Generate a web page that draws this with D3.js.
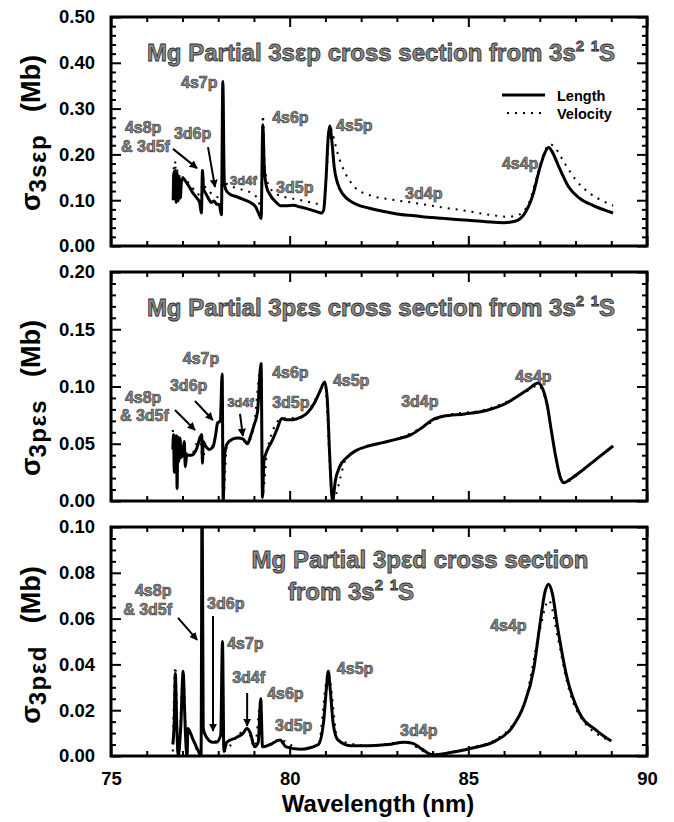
<!DOCTYPE html>
<html><head><meta charset="utf-8">
<script src="https://cdn.jsdelivr.net/npm/d3@7"></script>
<style>body{margin:0;background:#fff}text{font-family:"Liberation Sans",Arial,sans-serif;font-weight:bold}</style>
</head><body><svg id="c" width="674" height="822"></svg>
<script>
// ---------- data ----------
const xMajorTicks = [75, 80, 85, 90];
const xMinorTicks = [76, 77, 78, 79, 81, 82, 83, 84, 86, 87, 88, 89];
const sepTicks = [0, 0.1, 0.2, 0.3, 0.4, 0.5];
const pesTicks = [0, 0.05, 0.1, 0.15, 0.2];
const pedTicks = [0, 0.02, 0.04, 0.06, 0.08, 0.1];

// sigma 3s-eps-p (Mb) vs wavelength (nm)
const sepLength = [[76.74,0.100],[76.76,0.160],[76.78,0.105],[76.80,0.165],[76.82,0.095],[76.85,0.160],[76.88,0.098],[76.91,0.150],[76.94,0.105],[76.97,0.140],[77.02,0.148],[77.10,0.140],[77.20,0.128],[77.30,0.115],[77.40,0.105],[77.48,0.095],[77.53,0.072],[77.56,0.165],[77.59,0.125],[77.65,0.115],[77.72,0.105],[77.80,0.095],[77.88,0.098],[77.95,0.092],[78.03,0.090],[78.09,0.068],[78.13,0.358],[78.17,0.140],[78.22,0.122],[78.35,0.112],[78.50,0.108],[78.70,0.102],[78.90,0.095],[79.05,0.085],[79.15,0.068],[79.20,0.060],[79.25,0.265],[79.29,0.170],[79.35,0.130],[79.45,0.112],[79.60,0.097],[79.75,0.088],[79.90,0.088],[80.10,0.089],[80.30,0.085],[80.55,0.080],[80.75,0.075],[80.88,0.072],[80.95,0.078],[81.02,0.150],[81.08,0.240],[81.12,0.262],[81.18,0.230],[81.25,0.170],[81.35,0.135],[81.50,0.112],[81.70,0.098],[81.90,0.090],[82.20,0.083],[82.60,0.076],[83.00,0.070],[83.50,0.066],[84.00,0.062],[84.50,0.059],[85.00,0.056],[85.50,0.053],[86.00,0.051],[86.30,0.054],[86.55,0.068],[86.80,0.110],[87.00,0.170],[87.15,0.205],[87.25,0.215],[87.35,0.205],[87.55,0.170],[87.80,0.130],[88.10,0.105],[88.50,0.088],[89.05,0.072]];
const sepVelocity = [[76.74,0.115],[76.76,0.175],[76.78,0.120],[76.80,0.185],[76.82,0.112],[76.85,0.170],[76.88,0.115],[76.92,0.158],[76.97,0.150],[77.05,0.150],[77.15,0.140],[77.30,0.125],[77.45,0.112],[77.52,0.095],[77.56,0.172],[77.60,0.135],[77.70,0.123],[77.85,0.112],[78.00,0.105],[78.09,0.085],[78.13,0.360],[78.17,0.150],[78.25,0.135],[78.45,0.128],[78.70,0.122],[78.95,0.115],[79.12,0.100],[79.20,0.080],[79.25,0.285],[79.30,0.180],[79.40,0.135],[79.60,0.115],[79.90,0.106],[80.20,0.102],[80.50,0.097],[80.80,0.092],[80.95,0.095],[81.05,0.180],[81.12,0.262],[81.20,0.245],[81.35,0.200],[81.55,0.160],[81.80,0.130],[82.20,0.112],[82.80,0.102],[83.50,0.094],[84.20,0.085],[85.00,0.076],[85.60,0.068],[86.10,0.064],[86.40,0.068],[86.70,0.095],[86.95,0.160],[87.15,0.210],[87.30,0.222],[87.45,0.212],[87.70,0.180],[88.00,0.145],[88.40,0.115],[88.80,0.097],[89.05,0.088]];

// sigma 3p-eps-s
const pesLength = [[76.73,0.045],[76.75,0.058],[76.77,0.025],[76.79,0.057],[76.81,0.030],[76.83,0.057],[76.85,0.011],[76.87,0.056],[76.90,0.035],[76.93,0.055],[76.96,0.038],[77.00,0.040],[77.05,0.052],[77.08,0.030],[77.12,0.040],[77.25,0.040],[77.40,0.046],[77.50,0.056],[77.54,0.058],[77.56,0.033],[77.58,0.052],[77.65,0.048],[77.75,0.045],[77.85,0.047],[77.93,0.058],[77.98,0.068],[78.06,0.070],[78.11,0.111],[78.14,0.000],[78.18,0.040],[78.25,0.050],[78.40,0.054],[78.55,0.055],[78.70,0.054],[78.82,0.050],[78.90,0.056],[79.00,0.066],[79.10,0.078],[79.20,0.120],[79.24,0.003],[79.28,0.035],[79.38,0.045],[79.50,0.052],[79.65,0.063],[79.78,0.072],[79.90,0.071],[80.10,0.071],[80.30,0.073],[80.50,0.077],[80.70,0.086],[80.85,0.096],[80.98,0.104],[81.05,0.090],[81.12,0.040],[81.20,0.000],[81.28,0.018],[81.40,0.030],[81.60,0.038],[81.85,0.044],[82.20,0.048],[82.60,0.051],[83.00,0.054],[83.40,0.058],[83.70,0.064],[84.00,0.071],[84.30,0.074],[84.90,0.076],[85.50,0.079],[86.10,0.086],[86.40,0.092],[86.70,0.098],[86.95,0.103],[87.08,0.098],[87.20,0.085],[87.32,0.062],[87.45,0.038],[87.58,0.020],[87.68,0.016],[87.85,0.019],[88.20,0.027],[88.60,0.037],[89.05,0.048]];
const pesVelocity = [[76.73,0.062],[76.76,0.045],[76.80,0.056],[76.85,0.020],[76.90,0.040],[77.00,0.042],[77.25,0.041],[77.50,0.056],[77.56,0.035],[77.65,0.049],[77.85,0.048],[77.98,0.067],[78.06,0.070],[78.11,0.110],[78.14,0.002],[78.25,0.050],[78.55,0.055],[78.82,0.051],[79.00,0.066],[79.20,0.118],[79.24,0.005],[79.38,0.046],[79.78,0.072],[80.30,0.073],[80.85,0.096],[80.98,0.103],[81.20,0.001],[81.60,0.038],[82.20,0.048],[83.00,0.054],[83.70,0.064],[84.30,0.074],[85.50,0.080],[86.10,0.087],[86.70,0.097],[86.95,0.101],[87.20,0.084],[87.45,0.038],[87.68,0.016],[88.20,0.027],[89.05,0.048]];

// sigma 3p-eps-d
const pedLength = [[76.73,0.005],[76.77,0.015],[76.80,0.036],[76.84,0.014],[76.88,0.000],[76.95,0.012],[77.02,0.037],[77.06,0.020],[77.10,0.004],[77.13,0.000],[77.15,0.012],[77.30,0.007],[77.45,0.002],[77.52,0.000],[77.55,0.120],[77.58,0.012],[77.68,0.008],[77.85,0.006],[77.95,0.006],[78.07,0.009],[78.12,0.050],[78.16,0.002],[78.24,0.006],[78.50,0.008],[78.70,0.010],[78.80,0.012],[78.90,0.010],[79.02,0.004],[79.12,0.006],[79.19,0.025],[79.24,0.004],[79.45,0.005],[79.73,0.007],[79.90,0.004],[80.30,0.003],[80.80,0.005],[80.95,0.015],[81.03,0.030],[81.08,0.037],[81.13,0.030],[81.22,0.014],[81.35,0.007],[81.70,0.0045],[82.25,0.0045],[82.76,0.005],[83.20,0.006],[83.45,0.0055],[83.70,0.003],[84.00,0.0005],[84.50,0.0015],[85.15,0.0036],[85.75,0.0065],[86.20,0.012],[86.55,0.022],[86.83,0.038],[87.00,0.057],[87.15,0.072],[87.25,0.075],[87.35,0.071],[87.50,0.056],[87.75,0.035],[88.10,0.019],[88.60,0.011],[89.00,0.0065]];
const pedVelocity = [[76.73,0.002],[76.80,0.039],[76.88,0.000],[77.02,0.036],[77.13,0.000],[77.15,0.011],[77.52,0.000],[77.55,0.120],[77.58,0.011],[77.85,0.006],[78.07,0.009],[78.12,0.049],[78.16,0.002],[78.50,0.008],[78.80,0.012],[79.02,0.004],[79.19,0.024],[79.24,0.004],[79.73,0.007],[80.30,0.003],[80.80,0.005],[81.08,0.036],[81.35,0.007],[82.25,0.0045],[83.20,0.006],[84.00,0.0008],[85.15,0.004],[85.75,0.007],[86.55,0.022],[87.00,0.055],[87.25,0.068],[87.50,0.052],[87.75,0.033],[88.10,0.018],[89.00,0.0065]];

// resonance labels [text, wavelength, sigma, small?]
const sepLabels = [["4s7p",76.96,0.345],["4s6p",79.51,0.269],["4s5p",81.30,0.251],["4s8p",75.39,0.247],["& 3d5f",75.28,0.205],["3d6p",76.76,0.234],["3d4f",78.33,0.133,1],["3d5p",79.62,0.116],["3d4p",83.23,0.103],["4s4p",85.94,0.168]];
const sepArrows = [[76.735,0.212,77.407,0.170],[77.715,0.216,77.91,0.129]];
const pesLabels = [["4s7p",77.01,0.1197],["3d6p",76.65,0.096],["4s8p",75.39,0.0856],["& 3d5f",75.25,0.0699],["3d4f",78.25,0.082,1],["4s6p",79.51,0.1074],["3d5p",79.51,0.0812],["4s5p",81.21,0.1004],["3d4p",83.12,0.0821],["4s4p",86.31,0.1039]];
const pesArrows = [[76.79,0.0795,77.35,0.062],[77.35,0.0873,77.85,0.0707],[78.61,0.076,78.69,0.0568]];
const pedLabels = [["4s8p",75.67,0.0699],["& 3d5f",75.34,0.0616],["3d6p",77.69,0.0642],["4s7p",78.25,0.0467],["3d4f",78.39,0.0319],["4s6p",79.37,0.0249],["3d5p",79.59,0.0109],["4s5p",81.32,0.0358],["3d4p",83.09,0.0087],["4s4p",85.61,0.0546]];
const pedArrows = [[76.875,0.0603,77.41,0.0507],[77.855,0.0611,77.855,0.0109],[78.81,0.0275,78.81,0.0131]];

// ---------- layout ----------
const svg = d3.select("#c");
svg.append("rect").attr("width",674).attr("height",822).attr("fill","#fff");
const L = 111, R = 647, H = 229;
const tops = [17, 272, 527];
const titleCenters = [116, 126, 118];
const x = d3.scaleLinear().domain([75, 90]).range([0, R - L]);
const W = R - L;

const defs = svg.append("defs");
defs.append("marker").attr("id","ah").attr("viewBox","0 0 10 10").attr("refX",9).attr("refY",5)
  .attr("markerWidth",4).attr("markerHeight",4).attr("orient","auto-start-reverse")
  .append("path").attr("d","M0,0L10,5L0,10Z").attr("fill","#000");

const panels = [
  {max:0.5, ticks:sepTicks, minorStep:0.02, len:sepLength, vel:sepVelocity, labels:sepLabels, arrows:sepArrows, sub:"3sεp"},
  {max:0.2, ticks:pesTicks, minorStep:0.01, len:pesLength, vel:pesVelocity, labels:pesLabels, arrows:pesArrows, sub:"3pεs"},
  {max:0.1, ticks:pedTicks, minorStep:0.005, len:pedLength, vel:pedVelocity, labels:pedLabels, arrows:pedArrows, sub:"3pεd"}
];

function styleAxis(g){
  g.select(".domain").remove();
  g.selectAll(".tick line").attr("stroke","#000").attr("stroke-width",2);
  g.selectAll(".tick text").attr("font-size",18.5).attr("fill","#000")
   .style("font-family","'Liberation Sans',Arial,sans-serif").style("font-weight","bold");
}

panels.forEach((p, i) => {
  const g = svg.append("g").attr("transform", `translate(${L},${tops[i]})`);
  const y = d3.scaleLinear().domain([0, p.max]).range([H, 0]);
  const minor = d3.range(0, p.max + 1e-9, p.minorStep).filter(v => !p.ticks.some(t => Math.abs(t - v) < 1e-9));

  defs.append("clipPath").attr("id","clip"+i).append("rect").attr("width",W).attr("height",H);

  // ticks
  g.append("g").call(d3.axisLeft(y).tickValues(p.ticks).tickSize(-10).tickPadding(16).tickFormat(d3.format(".2f"))).call(styleAxis);
  g.append("g").call(d3.axisLeft(y).tickValues(minor).tickSize(-5).tickFormat("")).call(styleAxis);
  g.append("g").attr("transform",`translate(${W},0)`).call(d3.axisRight(y).tickValues(p.ticks).tickSize(-10).tickFormat("")).call(styleAxis);
  g.append("g").attr("transform",`translate(${W},0)`).call(d3.axisRight(y).tickValues(minor).tickSize(-5).tickFormat("")).call(styleAxis);
  g.append("g").call(d3.axisTop(x).tickValues(xMajorTicks).tickSize(-10).tickFormat("")).call(styleAxis);
  g.append("g").call(d3.axisTop(x).tickValues(xMinorTicks).tickSize(-5).tickFormat("")).call(styleAxis);
  const bAx = d3.axisBottom(x).tickValues(xMajorTicks).tickSize(-10).tickPadding(16);
  if (i < 2) bAx.tickFormat("");
  g.append("g").attr("transform",`translate(0,${H})`).call(bAx).call(styleAxis);
  g.append("g").attr("transform",`translate(0,${H})`).call(d3.axisBottom(x).tickValues(xMinorTicks).tickSize(-5).tickFormat("")).call(styleAxis);

  // curves
  const line = d3.line().x(d => x(d[0])).y(d => y(d[1])).curve(d3.curveMonotoneX);
  const cg = g.append("g").attr("clip-path",`url(#clip${i})`);
  cg.append("path").datum(p.vel).attr("d",line).attr("fill","none").attr("stroke","#000")
    .attr("stroke-width",2).attr("stroke-dasharray","2,6");
  cg.append("path").datum(p.len).attr("d",line).attr("fill","none").attr("stroke","#000")
    .attr("stroke-width",3).attr("stroke-linejoin","round");

  // frame
  g.append("rect").attr("width",W).attr("height",H).attr("fill","none").attr("stroke","#000").attr("stroke-width",3);

  // labels
  g.selectAll(".lbl").data(p.labels).join("text")
    .attr("x", d => x(d[1])).attr("y", d => y(d[2]))
    .attr("font-size", d => d[3] ? 13 : 16)
    .attr("fill","#8a8a8a").attr("stroke","#333").attr("stroke-width",0.6)
    .text(d => d[0]);
  g.selectAll(".arr").data(p.arrows).join("line")
    .attr("x1", d => x(d[0])).attr("y1", d => y(d[1]))
    .attr("x2", d => x(d[2])).attr("y2", d => y(d[3]))
    .attr("stroke","#000").attr("stroke-width",2).attr("marker-end","url(#ah)");

  // y-axis title
  const cy = tops[i] + titleCenters[i];
  const t = svg.append("text").attr("transform",`translate(40,${cy}) rotate(-90)`)
    .attr("text-anchor","middle").attr("font-size",26).attr("fill","#000");
  t.append("tspan").attr("font-size",27).text("σ");
  t.append("tspan").attr("font-size",24).attr("letter-spacing",1.5).attr("dy",6).text(p.sub);
  t.append("tspan").attr("font-size",27).attr("dy",-6).attr("dx",22).text("(Mb)");
});

// panel titles
function title(xc, yb, main, anchor){
  const t = svg.append("text").attr("x",xc).attr("y",yb).attr("text-anchor",anchor||"middle")
    .attr("font-size",24).attr("fill","#8a8a8a").attr("stroke","#2a2a2a").attr("stroke-width",0.8);
  t.append("tspan").text(main + "3s");
  t.append("tspan").attr("font-size",15).attr("dy",-10).text("2");
  t.append("tspan").attr("font-size",24).attr("dy",10).text(" ");
  t.append("tspan").attr("font-size",15).attr("dy",-10).text("1");
  t.append("tspan").attr("font-size",24).attr("dy",10).text("S");
}
title(381, 61, "Mg Partial 3sεp cross section from ");
title(381, 316, "Mg Partial 3pεs cross section from ");
svg.append("text").attr("x",420).attr("y",568).attr("text-anchor","middle").attr("font-size",24)
  .attr("fill","#8a8a8a").attr("stroke","#2a2a2a").attr("stroke-width",0.8).text("Mg Partial 3pεd cross section");
title(288, 600, "from ", "start");

// legend (top panel)
const lg = svg.append("g");
lg.append("line").attr("x1",502).attr("x2",545).attr("y1",95).attr("y2",95).attr("stroke","#000").attr("stroke-width",3);
lg.append("line").attr("x1",507).attr("x2",545).attr("y1",113).attr("y2",113).attr("stroke","#000").attr("stroke-width",2).attr("stroke-dasharray","2,6");
lg.append("text").attr("x",557).attr("y",101).attr("font-size",14.5).attr("fill","#000").text("Length");
lg.append("text").attr("x",557).attr("y",119).attr("font-size",14.5).attr("fill","#000").text("Velocity");

// x-axis title
svg.append("text").attr("x",378).attr("y",812).attr("text-anchor","middle").attr("font-size",24).attr("fill","#000").text("Wavelength (nm)");
</script></body></html>
